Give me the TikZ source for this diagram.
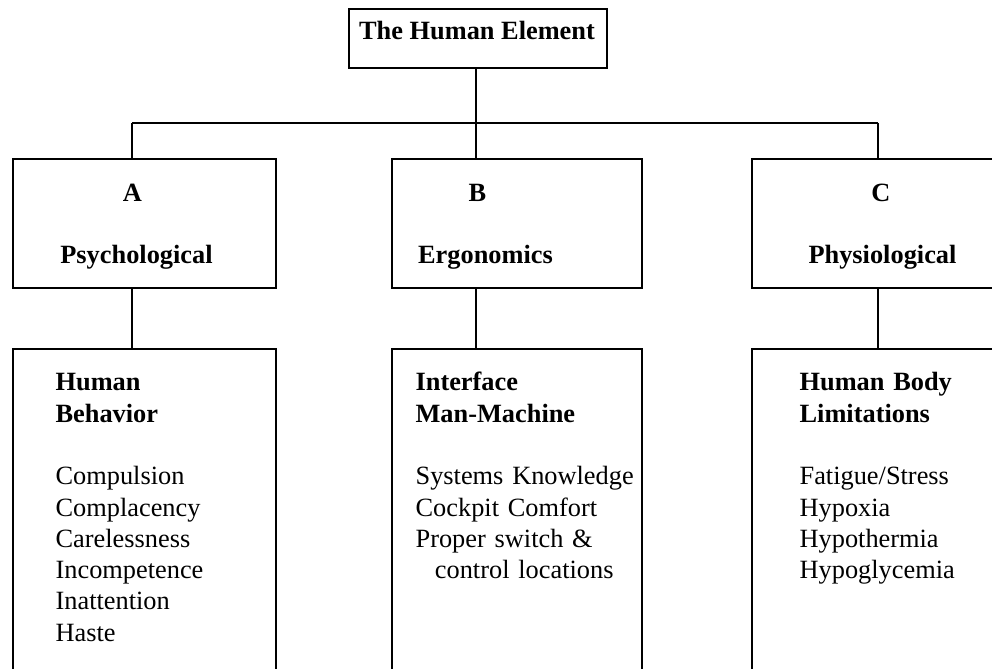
\documentclass[tikz,border=0pt]{standalone}
\usepackage{fontspec}
\setmainfont{Liberation Serif}
\usepackage{tikz}
\tikzstyle{box} = [draw, line width=0.7pt, rectangle, inner sep=0pt]
\tikzstyle{head} = [font=\fontsize{15}{18}\selectfont\bfseries, inner sep=0pt, anchor=base]
\tikzstyle{list} = [font=\fontsize{15}{17.8}\selectfont, inner sep=0pt, anchor=base west, text width=5cm, align=left]

\begin{document}
\begin{tikzpicture}[x=0.02cm, y=-0.02cm, line width=0.7pt]
        \useasboundingbox (0,0) rectangle (992,669);
        \node[box, minimum width=5.16cm, minimum height=1.18cm] at (478,38.5) (top) {};
        \node[head] at (477,40) (ttop) {The Human Element};

        \node[box, minimum width=5.26cm, minimum height=2.58cm] at (144.5,223.5) (a) {};
        \node[box, minimum width=5.0cm, minimum height=2.58cm] at (517,223.5) (b) {};
        \node[box, minimum width=5.26cm, minimum height=2.58cm] at (883.5,223.5) (c) {};
        \node[head] at (132.5,202) (ta) {A};
        \node[head] at (136.5,264) (tpsy) {Psychological};
        \node[head] at (477.5,202) (tb) {B};
        \node[head] at (485.5,264) (terg) {Ergonomics};
        \node[head] at (881,202) (tc) {C};
        \node[head] at (882.5,264) (tphy) {Physiological};

        \node[box, minimum width=5.26cm, minimum height=7.02cm] at (144.5,524.5) (la) {};
        \node[box, minimum width=5.0cm, minimum height=7.02cm] at (517,524.5) (lb) {};
        \node[box, minimum width=5.26cm, minimum height=7.02cm] at (883.5,524.5) (lc) {};
        \node[list] at (55,391) (ha) {\textbf{Human}\\\textbf{Behavior}\\[17.8pt]
          Compulsion\\Complacency\\Carelessness\\Incompetence\\Inattention\\Haste};
        \node[list] at (415,391) (hb) {\textbf{Interface}\\\textbf{Man-Machine}\\[17.8pt]
          Systems Knowledge\\Cockpit Comfort\\Proper switch \&\\\hspace*{11pt}control locations};
        \node[list] at (799,391) (hc) {\textbf{Human Body}\\\textbf{Limitations}\\[17.8pt]
          Fatigue/Stress\\Hypoxia\\Hypothermia\\Hypoglycemia};

        \coordinate (ja) at (132,123);
        \coordinate (jb) at (476,123);
        \coordinate (jc) at (878,123);
        \draw (jb |- top.south) -- (jb);
        \draw (ja) -- (jc);
        \draw (ja) -- (ja |- a.north);
        \draw (jb) -- (jb |- b.north);
        \draw (jc) -- (jc |- c.north);
        \draw (ja |- a.south) -- (ja |- la.north);
        \draw (jb |- b.south) -- (jb |- lb.north);
        \draw (jc |- c.south) -- (jc |- lc.north);

      \end{tikzpicture}
\end{document}
